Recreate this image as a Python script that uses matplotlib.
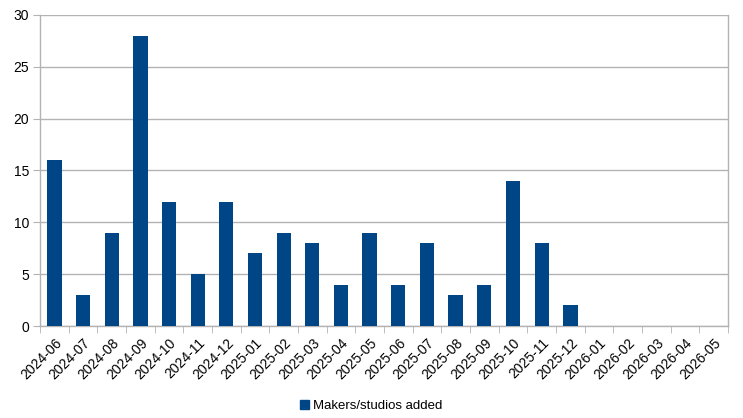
import matplotlib
matplotlib.use("Agg")
import matplotlib.pyplot as plt
from matplotlib.patches import Patch

# monthly counts of makers/studios added
months = ["2024-06", "2024-07", "2024-08", "2024-09", "2024-10", "2024-11", "2024-12",
          "2025-01", "2025-02", "2025-03", "2025-04", "2025-05", "2025-06", "2025-07",
          "2025-08", "2025-09", "2025-10", "2025-11", "2025-12",
          "2026-01", "2026-02", "2026-03", "2026-04", "2026-05"]
added = [16, 3, 9, 28, 12, 5, 12, 7, 9, 8, 4, 9, 4, 8, 3, 4, 14, 8, 2, 0, 0, 0, 0, 0]
yticks = [0, 5, 10, 15, 20, 25, 30]

plt.rcParams['font.family'] = ['Liberation Sans', 'DejaVu Sans']
bar_color = "#004586"
grid_color = "#b3b3b3"

fig = plt.figure(figsize=(7.43, 4.18), dpi=100)
ax = fig.add_axes([40/743, 1 - 326/418, 688/743, 311/418])

x = list(range(len(months)))
ax.bar(x, added, width=0.5, color=bar_color, zorder=3)

ax.set_xlim(-0.5, len(months) - 0.5)
ax.set_ylim(0, 30)
ax.set_yticks(yticks)
ax.yaxis.grid(True, color=grid_color, linewidth=1, zorder=0)
ax.tick_params(axis='y', length=5, color=grid_color, labelsize=10, pad=3)

# labels at category centres, tick marks at category boundaries
ax.set_xticks(x)
ax.set_xticklabels(months, rotation=45, ha='right', rotation_mode='anchor', fontsize=10)
ax.tick_params(axis='x', which='major', length=0, pad=7)
ax.set_xticks([i - 0.5 for i in range(len(months) + 1)], minor=True)
ax.tick_params(axis='x', which='minor', length=5, color=grid_color)

for s in ax.spines.values():
    s.set_color(grid_color)
    s.set_linewidth(1)
ax.spines['top'].set_visible(False)

fig.legend(handles=[Patch(color=bar_color, label="Makers/studios added")],
           loc='center', bbox_to_anchor=(371/743, 1 - 406/418), frameon=False,
           fontsize=9.5, handlelength=0.7, handleheight=0.7, handletextpad=0.3)

fig.savefig("out.png", dpi=100)
